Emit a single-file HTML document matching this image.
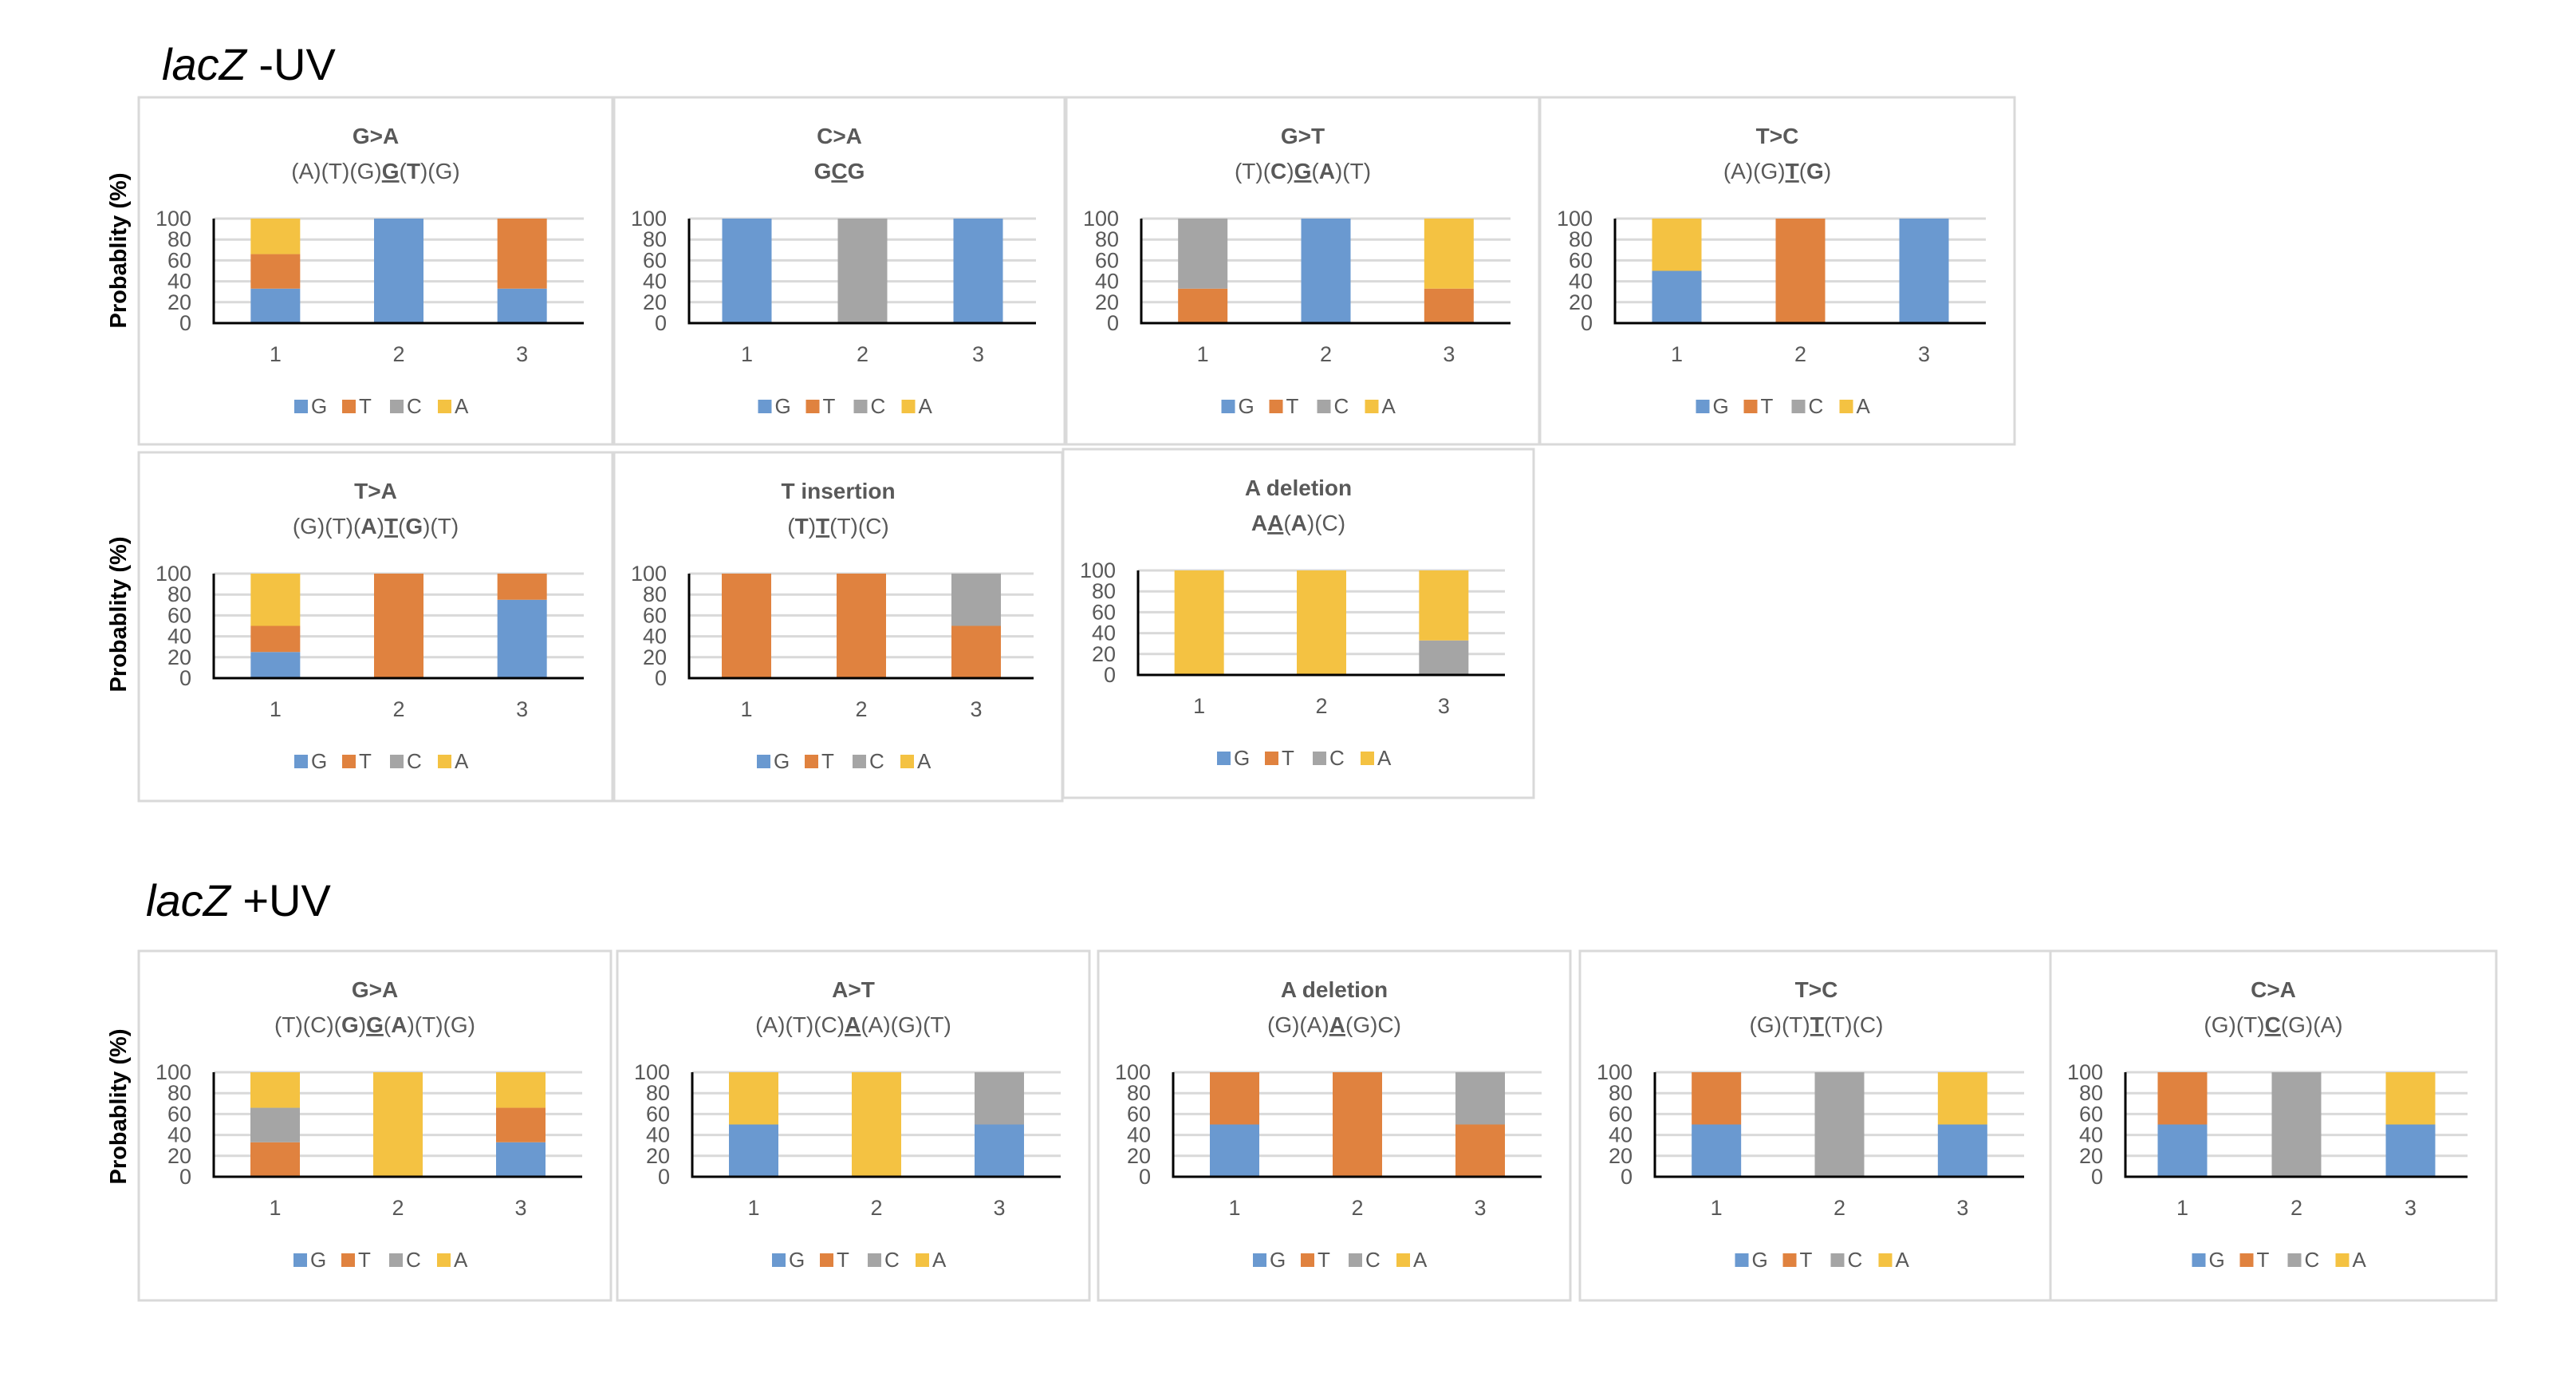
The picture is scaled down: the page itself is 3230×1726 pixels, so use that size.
<!DOCTYPE html>
<html><head><meta charset="utf-8">
<style>
html,body{margin:0;padding:0;background:#fff;}
body{width:3230px;height:1726px;position:relative;overflow:hidden;}
svg{position:absolute;left:0;top:0;}
text{font-family:"Liberation Sans Narrow","Liberation Sans",sans-serif;}
</style></head>
<body>
<svg id="fig" width="3230" height="1726" viewBox="0 0 3230 1726" xmlns="http://www.w3.org/2000/svg">
<text x="203" y="100" font-size="56" font-family="Liberation Sans Narrow, Liberation Sans, sans-serif" fill="#000"><tspan font-style="italic">lacZ</tspan> -UV</text>
<text x="183" y="1148" font-size="56" fill="#000"><tspan font-style="italic">lacZ</tspan> +UV</text>
<text transform="translate(158,314) rotate(-90)" text-anchor="middle" font-size="29" font-weight="bold" font-family="Liberation Sans, sans-serif" fill="#000">Probablity (%)</text>
<text transform="translate(158,770) rotate(-90)" text-anchor="middle" font-size="29" font-weight="bold" font-family="Liberation Sans, sans-serif" fill="#000">Probablity (%)</text>
<text transform="translate(158,1387) rotate(-90)" text-anchor="middle" font-size="29" font-weight="bold" font-family="Liberation Sans, sans-serif" fill="#000">Probablity (%)</text>
</svg>
<script>
const bases = ["G","T","C","A"];
const colors = ["#6a99d0","#e0823f","#a5a5a5","#f4c242"];
const categories = ["1","2","3"];
const yTicks = [0,20,40,60,80,100];
// panel titles
const titles = ["G>A","C>A","G>T","T>C","T>A","T insertion","A deletion","G>A","A>T","A deletion","T>C","C>A"];
const subtitles = [
 '(A)(T)(G)<tspan font-weight="bold" text-decoration="underline">G</tspan>(<tspan font-weight="bold">T</tspan>)(G)',
 '<tspan font-weight="bold">G</tspan><tspan font-weight="bold" text-decoration="underline">C</tspan><tspan font-weight="bold">G</tspan>',
 '(T)(<tspan font-weight="bold">C</tspan>)<tspan font-weight="bold" text-decoration="underline">G</tspan>(<tspan font-weight="bold">A</tspan>)(T)',
 '(A)(G)<tspan font-weight="bold" text-decoration="underline">T</tspan>(<tspan font-weight="bold">G</tspan>)',
 '(G)(T)(<tspan font-weight="bold">A</tspan>)<tspan font-weight="bold" text-decoration="underline">T</tspan>(<tspan font-weight="bold">G</tspan>)(T)',
 '(<tspan font-weight="bold">T</tspan>)<tspan font-weight="bold" text-decoration="underline">T</tspan>(T)(C)',
 '<tspan font-weight="bold">A</tspan><tspan font-weight="bold" text-decoration="underline">A</tspan>(<tspan font-weight="bold">A</tspan>)(C)',
 '(T)(C)(<tspan font-weight="bold">G</tspan>)<tspan font-weight="bold" text-decoration="underline">G</tspan>(<tspan font-weight="bold">A</tspan>)(T)(G)',
 '(A)(T)(C)<tspan font-weight="bold" text-decoration="underline">A</tspan>(A)(G)(T)',
 '(G)(A)<tspan font-weight="bold" text-decoration="underline">A</tspan>(G)C)',
 '(G)(T)<tspan font-weight="bold" text-decoration="underline">T</tspan>(T)(C)',
 '(G)(T)<tspan font-weight="bold" text-decoration="underline">C</tspan>(G)(A)'
];
// series values per panel: [position1, position2, position3], each [G,T,C,A]
const valsG = [[33,100,33],[100,0,100],[0,100,0],[50,0,100],[25,0,75],[0,0,0],[0,0,0],[0,0,33],[50,0,50],[50,0,0],[50,0,50],[50,0,50]];
const valsT = [[33,0,67],[0,0,0],[33,0,33],[0,100,0],[25,100,25],[100,100,50],[0,0,0],[33,0,33],[0,0,0],[50,100,50],[50,0,0],[50,0,0]];
const valsC = [[0,0,0],[0,100,0],[67,0,0],[0,0,0],[0,0,0],[0,0,50],[0,0,33],[33,0,0],[0,0,50],[0,0,50],[0,100,0],[0,100,0]];
const valsA = [[34,0,0],[0,0,0],[0,0,67],[50,0,0],[50,0,0],[0,0,0],[100,100,67],[34,100,34],[50,100,0],[0,0,0],[0,0,50],[0,0,50]];
// panel frames (layout)
const frames = [[174,122,594,435],[770,122,565,435],[1337,122,593,435],[1931,122,595,435],
 [174,567,594,437],[770,567,562,437],[1333,563,590,437],
 [174,1192,592,438],[774,1192,592,438],[1377,1192,592,438],[1981,1192,593,438],[2571,1192,559,438]];
const NS="http://www.w3.org/2000/svg";
const svg=document.getElementById('fig');
function mk(tag,attrs,parent){const e=document.createElementNS(NS,tag);for(const k in attrs)e.setAttribute(k,attrs[k]);(parent||svg).appendChild(e);return e;}
frames.forEach((f,p)=>{
 const [fx,fy,fw,fh]=f;
 const g=mk('g',{});
 
 
 const border=mk('rect',{x:fx,y:fy,width:fw,height:fh,fill:'#fff',stroke:'#d9d9d9','stroke-width':3},g);
 
 
 const cx=fx+fw/2;
 const t=mk('text',{x:cx,y:fy+58,'text-anchor':'middle','font-size':28,'font-weight':'bold',fill:'#595959'},g);
 t.textContent=titles[p];
 
 
 const st=mk('text',{x:cx,y:fy+102,'text-anchor':'middle','font-size':28,fill:'#595959'},g);
 st.innerHTML=subtitles[p];
 
 
 const ax=fx+94, aw=fw-130, top=fy+152, h=131, base=top+h;
 const yS=v=>base-v/100*h;
 yTicks.forEach(v=>{
  if(v>0){const gl=mk('line',{x1:ax,x2:ax+aw,y1:yS(v),y2:yS(v),stroke:'#d9d9d9','stroke-width':3},g);
   
   }
  const tl=mk('text',{x:ax-28,y:yS(v)+9,'text-anchor':'end','font-size':27,fill:'#595959'},g);
  tl.textContent=String(v);
  
  
 });
 const pitch=aw/3, bw=62;
 const series=[valsG[p],valsT[p],valsC[p],valsA[p]];
 categories.forEach((c,i)=>{
  const bx=ax+(i+0.5)*pitch;
  let acc=0;
  series.forEach((s,k)=>{
   const v=s[i]; if(v<=0)return;
   const r=mk('rect',{x:bx-bw/2,y:yS(Math.min(100,acc+v)),width:bw,height:yS(acc)-yS(Math.min(100,acc+v)),fill:colors[k]},g);
   
   
   acc+=v;
  });
  const xl=mk('text',{x:bx,y:base+48,'text-anchor':'middle','font-size':27,fill:'#595959'},g);
  xl.textContent=c;
  
  
 });
 const ya=mk('line',{x1:ax,x2:ax,y1:top,y2:base+1.5,stroke:'#000','stroke-width':3},g);
 
 
 const xa=mk('line',{x1:ax,x2:ax+aw,y1:base,y2:base,stroke:'#000','stroke-width':3},g);
 
 
 const ly=fy+387, lx0=cx-102;
 bases.forEach((b,k)=>{
  const lx=lx0+k*60;
  const sq=mk('rect',{x:lx,y:ly-8,width:17,height:17,fill:colors[k]},g);
  
  
  const lt=mk('text',{x:lx+21,y:ly+9,'font-size':26,fill:'#595959'},g);
  lt.textContent=b;
  
  
 });
});
</script>
</body></html>
